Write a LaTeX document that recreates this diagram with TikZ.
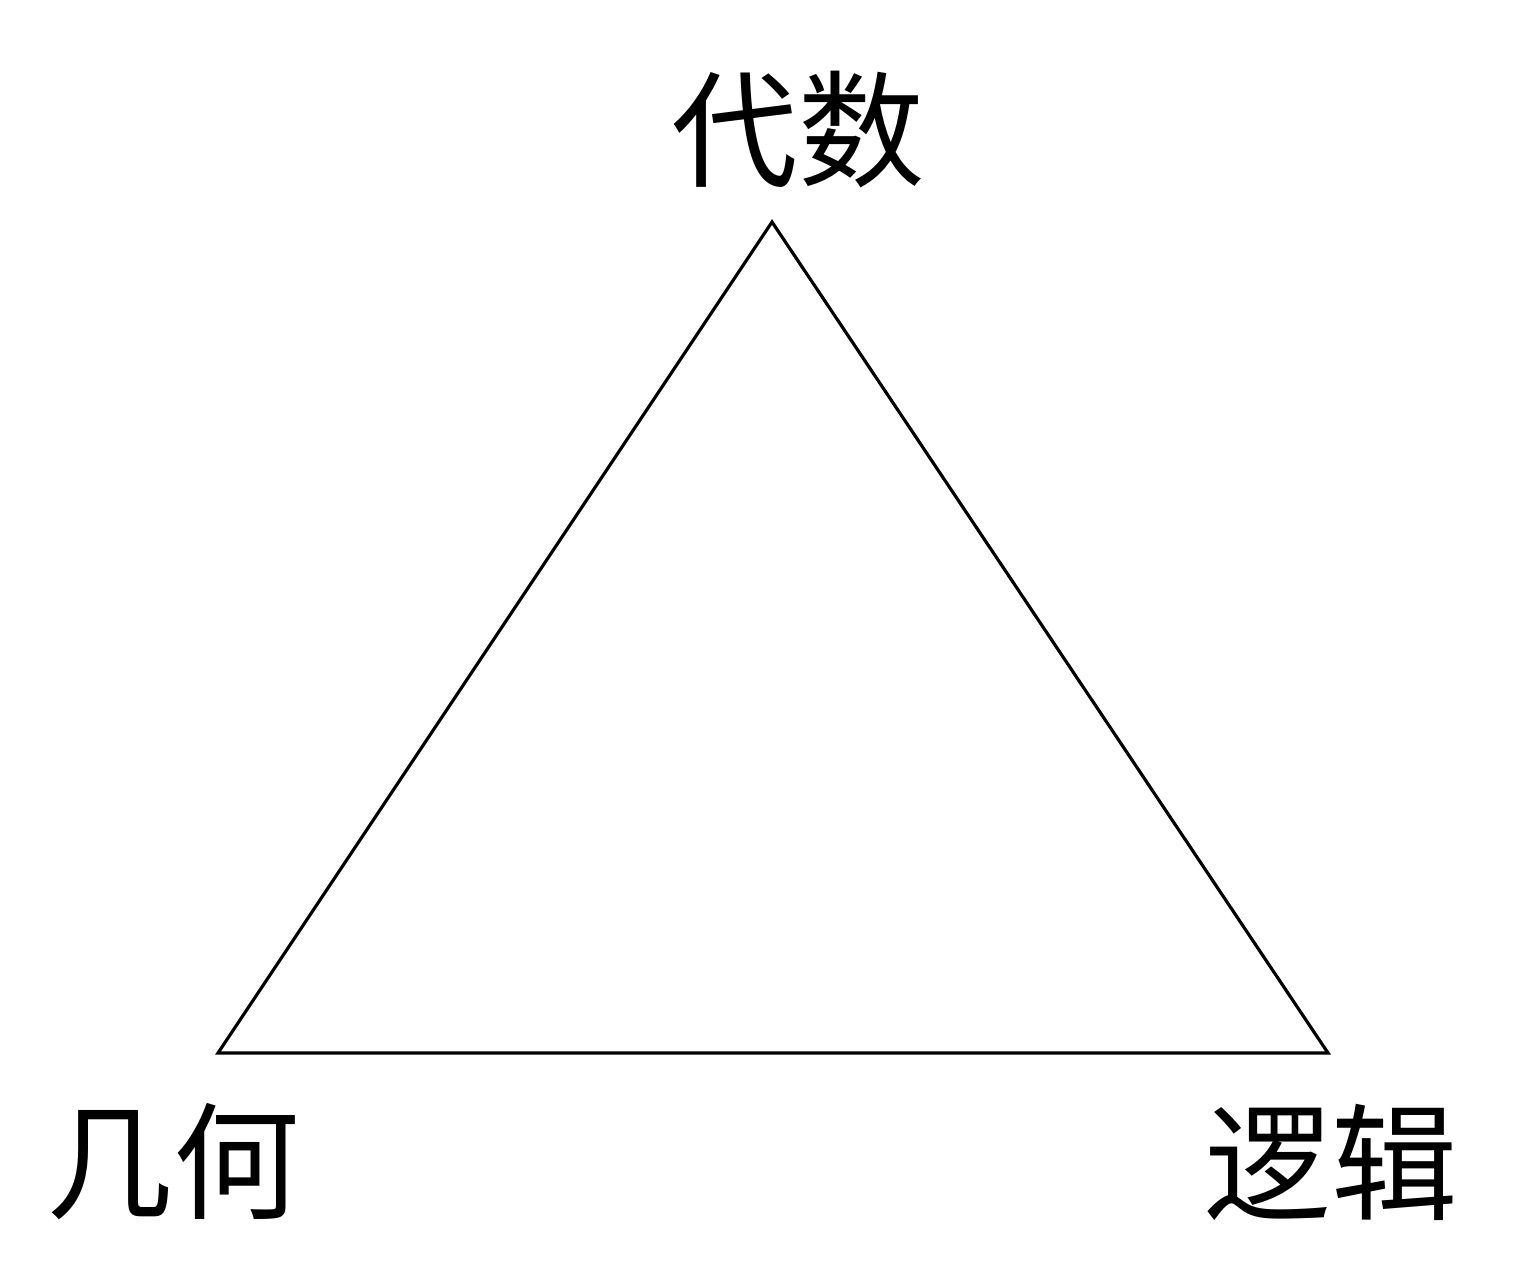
\documentclass[tikz,border=0pt]{standalone}
\usepackage{fontspec}
\newfontfamily\cjk{Noto Sans CJK SC}
\begin{document}
\begin{tikzpicture}[x=1cm,y=1cm,
  lbl/.style={font=\cjk\fontsize{36}{40}\selectfont, inner sep=0pt, anchor=center},
  edge/.style={draw=black, line width=0.9pt, line join=miter}]
\useasboundingbox (0,0) rectangle (15.39,12.80);
\coordinate (T) at (7.72,10.58);
\coordinate (L) at (2.18,2.27);
\coordinate (R) at (13.28,2.27);
\draw[edge] (T) -- (L) -- (R) -- cycle;
\node[lbl] (ds) at (7.98,11.50) {代数};
\node[lbl] (jh) at (1.73,1.18) {几何};
\node[lbl] (lj) at (13.31,1.18) {逻辑};
\end{tikzpicture}
\end{document}
